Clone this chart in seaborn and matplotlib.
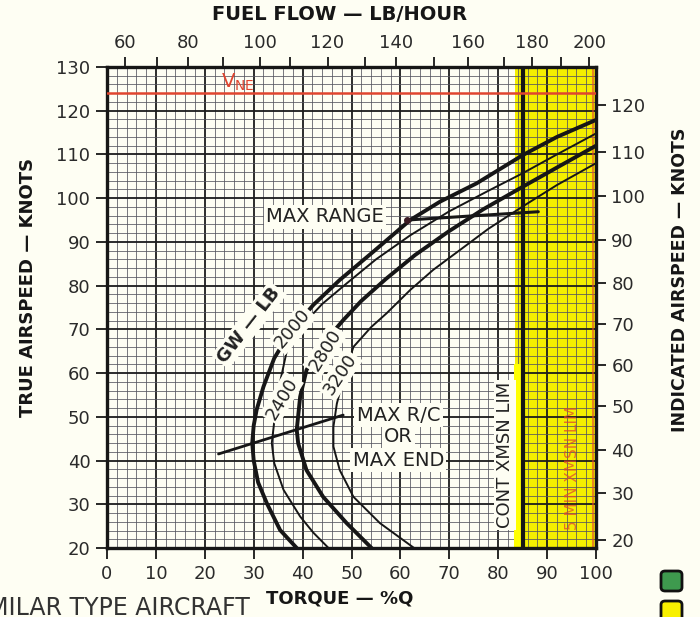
import numpy as np
import pandas as pd
import matplotlib
matplotlib.use("Agg")
import matplotlib.pyplot as plt
import seaborn as sns
from matplotlib.patches import FancyBboxPatch

# ---- data (torque %Q, true airspeed kn) ----
gw_2000_q = [38.8, 35.4, 32.7, 30.9, 30.0, 29.7, 30.0, 30.6, 32.0, 34.2, 37.5, 42.2,
             47.6, 54.5, 62.0, 68.1, 75.6, 85.1, 92.0, 100.0]
gw_2000_tas = [20, 24.1, 30.2, 35, 40, 44, 48, 51.6, 56.9, 63.4, 69.5, 75.6,
               81.3, 87.8, 95.0, 99.2, 103.4, 109.9, 114.0, 117.9]

gw_2400_q = [45.3, 42.2, 39.5, 36.1, 34.2, 33.7, 34.4, 35.5, 37.1, 40.0, 44.0, 49.0,
             55.0, 62.0, 70.0, 78.0, 85.0, 92.0, 100.0]
gw_2400_tas = [20, 23.5, 27.2, 33.3, 39.4, 44.0, 50.8, 58.5, 66.8, 71.0, 75.8, 80.5,
               86.0, 91.5, 97.0, 101.7, 105.7, 110.0, 114.8]

gw_2800_q = [54.1, 49.0, 44.2, 40.8, 39.1, 38.8, 39.5, 40.8, 44.0, 48.3, 52.0, 57.0,
             63.0, 70.0, 77.0, 85.0, 92.0, 100.0]
gw_2800_tas = [20, 25.7, 31.7, 37.8, 43.9, 47.0, 54.6, 60.7, 66.5, 72.1, 76.5, 81.5,
               87.0, 92.5, 97.5, 102.6, 107.0, 112.0]

gw_3200_q = [62.8, 55.8, 50.4, 47.6, 46.3, 46.3, 47.0, 48.5, 50.4, 54.0, 57.2, 62.0,
             66.7, 72.0, 78.0, 85.0, 92.0, 100.0]
gw_3200_tas = [20, 25.7, 31.7, 37.8, 43.2, 47.7, 53.0, 59.5, 66.0, 70.5, 73.7, 79.0,
               83.6, 88.0, 93.0, 98.1, 103.0, 108.0]

max_range_q = [61.3, 88.2]
max_range_tas = [95.0, 96.9]
max_rc_q = [22.8, 48.3]
max_rc_tas = [41.5, 50.4]

vne_tas = 124.0
cont_xmsn_q = 85.0

# top scale: fuel flow ticks and where they sit on the torque scale
fuel_flow = [60, 70, 80, 90, 100, 110, 120, 130, 140, 150, 160, 170, 180, 190, 200]
fuel_at_q = [3.7, 10.2, 16.6, 23.7, 31.3, 37.4, 45.1, 52.8, 59.1, 66.9, 73.9, 81.2,
             86.9, 92.8, 98.6]
# right scale: indicated airspeed ticks and their true airspeed
ias = [20, 30, 40, 50, 60, 70, 80, 90, 100, 110, 120]
ias_at_tas = [21.8, 32.6, 42.4, 52.5, 61.9, 71.2, 80.7, 90.4, 100.5, 110.6, 121.3]

curves = pd.concat([
    pd.DataFrame({"gw": "2000", "torque": gw_2000_q, "tas": gw_2000_tas}),
    pd.DataFrame({"gw": "2400", "torque": gw_2400_q, "tas": gw_2400_tas}),
    pd.DataFrame({"gw": "2800", "torque": gw_2800_q, "tas": gw_2800_tas}),
    pd.DataFrame({"gw": "3200", "torque": gw_3200_q, "tas": gw_3200_tas}),
])

# ---- style ----
sns.set_style("white")
plt.rcParams["font.family"] = ["DejaVu Sans"]
bg = "#FEFEF3"
ink = "#161616"
red = "#E0452F"
yellow = "#F4EE00"
widths = {"2000": 2.8, "2400": 1.4, "2800": 2.8, "3200": 1.4}

fig = plt.figure(figsize=(7, 6.17), dpi=100, facecolor=bg)
ax = fig.add_axes([107 / 700, 1 - 548 / 617, 489 / 700, 481 / 617])
ax.set_facecolor(bg)
ax.set_xlim(0, 100)
ax.set_ylim(20, 130)

# grid
ax.set_axisbelow(True)
ax.set_xticks(np.arange(0, 101, 10))
ax.set_yticks(np.arange(20, 131, 10))
ax.set_xticks(np.arange(0, 101, 2), minor=True)
ax.set_yticks(np.arange(20, 131, 2), minor=True)
ax.grid(which="minor", color="#55555f", lw=0.7, alpha=0.8)
ax.grid(which="major", color="#1c1c1c", lw=1.3)
ax.tick_params(which="minor", length=0)
ax.tick_params(which="major", direction="out", length=8, width=1.3, color=ink,
               labelsize=13, labelcolor="#2a2a2a", pad=4, top=False, right=False)
for s in ax.spines.values():
    s.set_color(ink)
    s.set_linewidth(2.4)

# yellow transmission zone
ax.axvspan(83.5, 100, color=yellow, zorder=0.2, lw=0)
ax.axvline(99.3, color=red, lw=1.5, alpha=0.6, zorder=0.8)
ax.fill_between([83.3, 84.6], 20, 62, color="#FFFF00", zorder=2, lw=0)
ax.axvline(cont_xmsn_q, color=ink, lw=3, zorder=3)

# VNE
ax.axhline(vne_tas, color=red, lw=1.8, zorder=3)
ax.text(26.8, 126.6, r"$\mathregular{V_{NE}}$", color=red, fontsize=14,
        ha="center", va="center", zorder=5)

# gross weight curves
for gw, sub in curves.groupby("gw"):
    sns.lineplot(data=sub, x="torque", y="tas", sort=False, estimator=None,
                 color=ink, linewidth=widths[gw], ax=ax, zorder=4, legend=False)

sns.lineplot(x=max_range_q, y=max_range_tas, sort=False, estimator=None,
             color=ink, linewidth=2.2, ax=ax, zorder=4)
ax.plot(max_range_q[0], max_range_tas[0], "o", ms=4, color="#3a1a22", zorder=5)
sns.lineplot(x=max_rc_q, y=max_rc_tas, sort=False, estimator=None,
             color=ink, linewidth=2.0, ax=ax, zorder=4)
ax.set_xlabel("")
ax.set_ylabel("")

box = dict(boxstyle="square,pad=0.12", fc=bg, ec="none")
lbl = dict(color="#222222", ha="center", va="center", zorder=6, bbox=box)
ax.text(44.6, 95.7, "MAX RANGE", fontsize=14, **lbl)
ax.text(29.0, 71.0, "GW — LB", fontsize=13, fontweight="bold", rotation=52, **lbl)
ax.text(38.0, 70.1, "2000", fontsize=13, rotation=50, **lbl)
ax.text(35.7, 54.2, "2400", fontsize=13, rotation=59, **lbl)
ax.text(44.6, 65.3, "2800", fontsize=13, rotation=58, **lbl)
ax.text(47.6, 59.6, "3200", fontsize=13, rotation=56, **lbl)
ax.text(59.6, 50.4, "MAX R/C", fontsize=14, **lbl)
ax.text(59.6, 45.5, "OR", fontsize=14, **lbl)
ax.text(59.6, 40.1, "MAX END", fontsize=14, **lbl)
ax.text(81.4, 41.3, "CONT XMSN LIM", fontsize=13, rotation=90, **lbl)
ax.text(95.1, 38.3, "5 MIN XMSN LIM", fontsize=11, rotation=90, color=red,
        alpha=0.75, ha="center", va="center", zorder=6)

# top axis: fuel flow
ax_top = ax.twiny()
ax_top.set_xlim(0, 100)
ax_top.set_xticks(fuel_at_q, labels=[str(f) if f % 20 == 0 else "" for f in fuel_flow])
ax_top.tick_params(direction="out", length=7, width=1.3, color=ink, labelsize=13,
                   labelcolor="#2a2a2a", pad=4)
# right axis: indicated airspeed
ax_right = ax.twinx()
ax_right.set_ylim(20, 130)
ax_right.set_yticks(ias_at_tas, labels=[str(v) for v in ias])
ax_right.tick_params(direction="out", length=7, width=1.3, color=ink, labelsize=13,
                     labelcolor="#2a2a2a", pad=4)
for a in (ax_top, ax_right):
    for s in a.spines.values():
        s.set_visible(False)

fig.text(340 / 700, 1 - 14 / 617, "FUEL FLOW — LB/HOUR", fontsize=14,
         fontweight="bold", color=ink, ha="center", va="center")
fig.text(340 / 700, 1 - 598 / 617, "TORQUE — %Q", fontsize=13,
         fontweight="bold", color=ink, ha="center", va="center")
fig.text(28 / 700, 1 - 287 / 617, "TRUE AIRSPEED — KNOTS", fontsize=13,
         fontweight="bold", color=ink, ha="center", va="center", rotation=90)
fig.text(680 / 700, 1 - 280 / 617, "INDICATED AIRSPEED — KNOTS", fontsize=12.5,
         fontweight="bold", color=ink, ha="center", va="center", rotation=90)
# this caption is cut off at the left edge in the original scan
fig.text(250 / 700, 1 - 608 / 617, "SIMILAR TYPE AIRCRAFT", fontsize=17,
         color="#333333", ha="right", va="center")

# little legend swatches at bottom right
fig.patches.append(FancyBboxPatch((661 / 700, 1 - 591 / 617), 21 / 700, 20 / 617,
                                  boxstyle="round,pad=0,rounding_size=0.006",
                                  fc="#3E9A4E", ec="#111111", lw=2,
                                  transform=fig.transFigure, figure=fig))
fig.patches.append(FancyBboxPatch((661 / 700, 1 - 621 / 617), 21 / 700, 20 / 617,
                                  boxstyle="round,pad=0,rounding_size=0.006",
                                  fc="#F8F000", ec="#111111", lw=2,
                                  transform=fig.transFigure, figure=fig))

fig.savefig("out.png", dpi=100, facecolor=bg)
